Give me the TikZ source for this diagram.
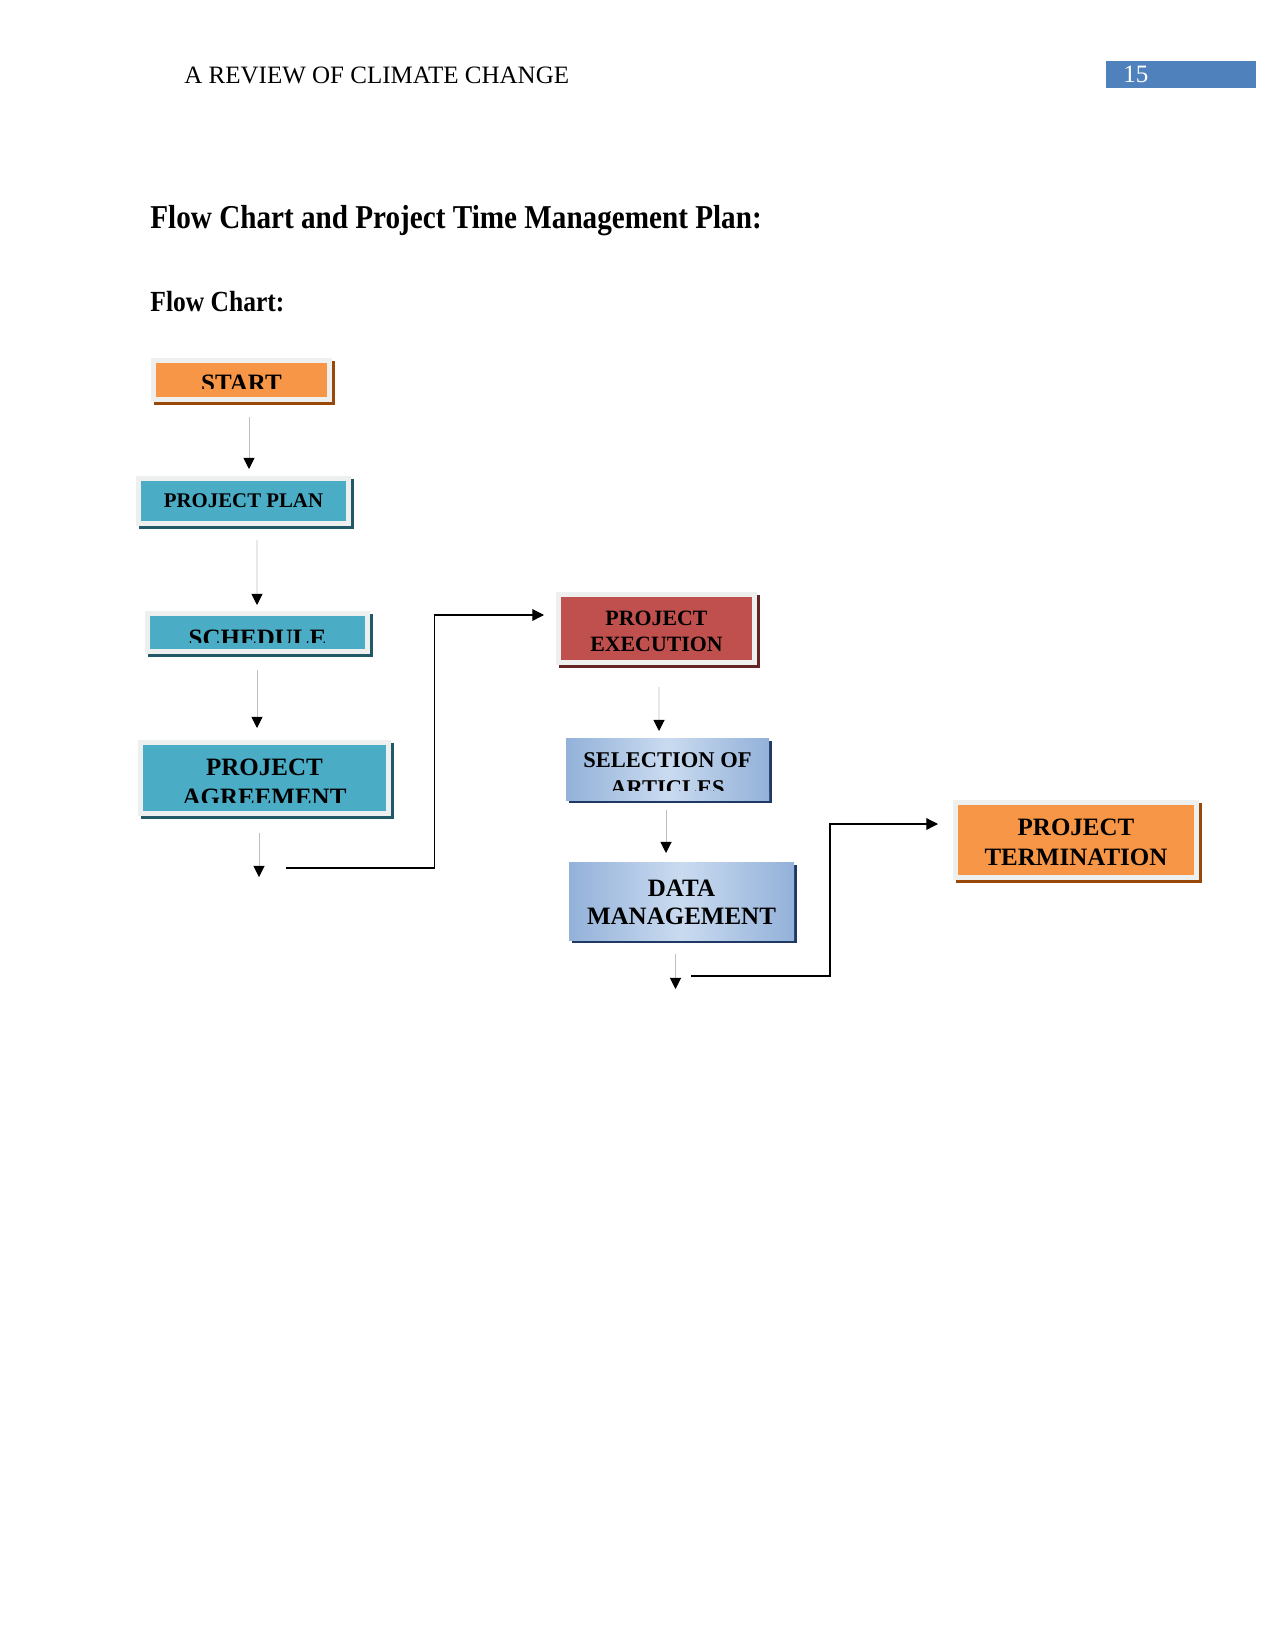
\documentclass[tikz,border=0pt]{standalone}
\usepackage{fontspec}
\setmainfont{Liberation Serif}
\newfontfamily\narrowserif{Liberation Serif}[FakeStretch=0.875]
\usetikzlibrary{arrows.meta,calc}
\definecolor{orangefill}{HTML}{F79646}
\definecolor{orangeshade}{HTML}{984807}
\definecolor{tealfill}{HTML}{4BACC6}
\definecolor{tealshade}{HTML}{215968}
\definecolor{redfill}{HTML}{C0504D}
\definecolor{redshade}{HTML}{632523}
\definecolor{steeledge}{HTML}{93B1D9}
\definecolor{steelmid}{HTML}{CADBF0}
\definecolor{navyshade}{HTML}{1F3864}
\definecolor{framegray}{HTML}{EEEFEF}
\definecolor{pagenum}{HTML}{4F81BD}
\newcommand{\boxlabel}[2]{\raisebox{-#1}[\height][\depth]{\begin{tabular}{@{}c@{}}#2\end{tabular}}}

\begin{document}
\begin{tikzpicture}[x=0.48pt,y=-0.48pt,
  box/.style={rectangle, inner sep=0pt, outer sep=0pt, text=black},
  framed/.style 2 args={fill=#1, draw=framegray, line width=2.4pt,
    preaction={draw=#2, line width=2.4pt, transform canvas={shift={(1.44pt,-1.44pt)}}}},
  steel/.style={left color=steeledge, right color=steeledge, middle color=steelmid,
    preaction={fill=navyshade, transform canvas={shift={(1.44pt,-1.44pt)}}}},
  pagetext/.style={anchor=base west, inner sep=0pt},
  bigtext/.style={font=\bfseries\fontsize{12}{14}\selectfont},
  flow/.style={draw=gray!50, line width=0.45pt, -{Triangle[length=5.3pt,width=5.3pt,color=black]}},
  elbow/.style={draw=black, line width=0.6pt, -{Triangle[length=5.6pt,width=5.6pt]}}]
\useasboundingbox (0,0) rectangle (1275,1650);

% page header
\node[pagetext, font=\fontsize{12}{14}\selectfont] (header) at (184,84) {A REVIEW OF CLIMATE CHANGE};
\fill[pagenum] (1106,61) rectangle (1256,88);
\node[pagetext, text=white, font=\fontsize{12}{14}\selectfont] (pageno) at (1123,83) {15};
\node[pagetext, font=\narrowserif\bfseries\fontsize{16}{19}\selectfont] (title) at (150,229) {Flow Chart and Project Time Management Plan:};
\node[pagetext, font=\narrowserif\bfseries\fontsize{14}{17}\selectfont] (subtitle) at (150,312) {Flow Chart:};

% left column
\node[box, framed={orangefill}{orangeshade}, bigtext, minimum width=84.48pt, minimum height=18.72pt] (start) at (241.5,380) {\boxlabel{2.7pt}{START}};
\node[box, framed={tealfill}{tealshade}, font=\bfseries\fontsize{10}{12}\selectfont, minimum width=100.8pt, minimum height=21.6pt] (plan) at (243.5,501) {\boxlabel{0.6pt}{PROJECT PLAN}};
\node[box, framed={tealfill}{tealshade}, bigtext, minimum width=105.6pt, minimum height=18.24pt] (schedule) at (257.5,632.5) {\boxlabel{3.9pt}{SCHEDULE}};
\node[box, framed={tealfill}{tealshade}, bigtext, minimum width=119.04pt, minimum height=34.08pt] (agreement) at (264.5,778) {\boxlabel{3.2pt}{PROJECT\\AGREEMENT}};

% middle column
\node[box, framed={redfill}{redshade}, font=\bfseries\fontsize{10.5}{12.3}\selectfont, minimum width=94.08pt, minimum height=32.64pt] (execution) at (656.5,628.5) {\boxlabel{2.2pt}{PROJECT\\EXECUTION}};
\node[box, steel, font=\bfseries\fontsize{10.8}{13.3}\selectfont, minimum width=97.44pt, minimum height=29.76pt] (selection) at (667.5,769) {\boxlabel{3.25pt}{SELECTION OF\\ARTICLES}};
\node[box, steel, font=\bfseries\fontsize{12}{13.5}\selectfont, minimum width=108pt, minimum height=37.44pt] (data) at (681.5,901) {\boxlabel{1.7pt}{DATA\\MANAGEMENT}};

% right column
\node[box, framed={orangefill}{orangeshade}, bigtext, minimum width=115.68pt, minimum height=36pt] (termination) at (1076,840) {\boxlabel{2.2pt}{PROJECT\\TERMINATION}};

% cut-off text bottoms
\fill[orangefill] (156,389) rectangle (327,397);
\fill[tealfill] (150,643) rectangle (365,649);
\fill[tealfill] (143,803) rectangle (386,811);
\fill[left color=steeledge, right color=steeledge, middle color=steelmid] (566,791.7) rectangle (769,800);

% connectors
\foreach \from/\to/\fx/\fy/\tx/\ty in
  {start/plan/7.5/17.5/5.5/-9.5,
   plan/schedule/13.5/16.5/-0.5/-8.5,
   schedule/agreement/-0.5/18.5/-7.5/-14.5,
   execution/selection/2.5/24.5/-8.5/-7,
   selection/data/-1.5/10/-15.5/-9}
  \draw[flow] ($(\from.south)+(\fx,\fy)$) -- ($(\to.north)+(\tx,\ty)$);

\coordinate (agreeend) at (259,877);
\coordinate (agreeout) at (286,868);
\coordinate (dataend) at (675.5,989);
\coordinate (dataout) at (691,976);
\draw[flow] ($(agreement.south)+(-5.5,19.5)$) -- (agreeend);
\draw[flow] ($(data.south)+(-6,14)$) -- (dataend);
\draw[elbow] (agreeout) -- ++(148.5,0) |- ($(execution.west)+(-14.5,-13.5)$);
\draw[elbow] (dataout) -- ++(139,0) |- ($(termination.west)+(-17.5,-16)$);
\end{tikzpicture}
\end{document}
